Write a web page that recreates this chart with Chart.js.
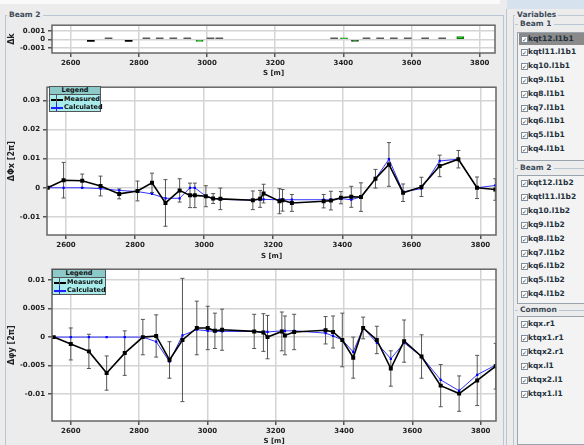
<!DOCTYPE html>
<html>
<head>
<meta charset="utf-8">
<script src="https://cdn.jsdelivr.net/npm/chart.js@4.4.0/dist/chart.umd.min.js"></script>
<style>
body { margin:0; width:584px; height:445px; background:#ececec; overflow:hidden; position:relative; font-family:"DejaVu Sans", sans-serif; font-weight:bold; }
canvas { position:absolute; left:0; }
.ln { position:absolute; background:#b9c7d5; }
.lbl { position:absolute; font-size:7.5px; color:#3c4a58; line-height:9px; background:#ececec; padding:0 2px; }
.legend { position:absolute; border:1px solid #555; background:#a9ecec; font-size:6.5px; color:#111; z-index:2; }
.legend .hd { background:#8ccaca; border-bottom:1px solid #555; text-align:center; height:7px; line-height:7px; }
.legend .row { position:relative; height:8px; line-height:8px; padding-left:14px; }
.legend .row i { position:absolute; left:1px; top:4px; width:12px; height:1.5px; }
.legend .row b { position:absolute; left:6px; top:0; width:1px; height:8px; }
.list { position:absolute; left:517px; width:70px; border:1px solid #9aa4ae; background:#f3f3f3; }
.item { position:absolute; left:519px; font-size:7.5px; color:#24313d; height:12px; line-height:12px; padding-left:9px; width:60px; }
.item.sel { background:#8a8a8a; }
.item span { position:absolute; left:2px; top:3px; width:5px; height:5px; border:1px solid #7f8c99; background:#fff; font-size:6px; line-height:5px; text-align:center; color:#333; }
</style>
</head>
<body>
<div style="position:absolute;left:0;top:0;width:500px;height:4px;background:#fafafa;"></div>
<div style="position:absolute;left:507px;top:0;width:77px;height:9px;background:#d6e2ee;"></div>

<!-- Beam 2 panel border -->
<div class="ln" style="left:5px;top:15px;width:498px;height:1px;"></div>
<div class="ln" style="left:5px;top:15px;width:1px;height:430px;"></div>
<div class="ln" style="left:503px;top:15px;width:1px;height:430px;"></div>
<div class="lbl" style="left:7px;top:10px;">Beam 2</div>

<!-- Variables side -->
<div class="ln" style="left:506px;top:9px;width:1px;height:436px;"></div>
<div class="ln" style="left:513px;top:15px;width:71px;height:1px;"></div>
<div class="ln" style="left:513px;top:15px;width:1px;height:430px;"></div>
<div class="lbl" style="left:515px;top:10px;">Variables</div>
<div class="ln" style="left:515px;top:24px;width:69px;height:1px;"></div>
<div class="lbl" style="left:518px;top:19px;">Beam 1</div>
<div class="list" style="top:32px;height:127px;"></div>
<div class="ln" style="left:515px;top:168px;width:69px;height:1px;"></div>
<div class="lbl" style="left:518px;top:163px;">Beam 2</div>
<div class="list" style="top:175px;height:127px;"></div>
<div class="ln" style="left:515px;top:310px;width:69px;height:1px;"></div>
<div class="lbl" style="left:518px;top:305px;">Common</div>
<div class="list" style="top:316px;height:127px;"></div>

<canvas id="dk" width="505" height="62" style="top:18px;"></canvas>
<canvas id="phx" width="505" height="185" style="top:80px;"></canvas>
<canvas id="phy" width="505" height="183" style="top:262px;"></canvas>

<div class="legend" style="left:49px;top:86px;width:50px;">
  <div class="hd">Legend</div>
  <div class="row"><i style="background:#000"></i><b style="background:#555"></b>Measured</div>
  <div class="row"><i style="background:#2020ff"></i><b style="background:#2020ff"></b>Calculated</div>
</div>
<div class="legend" style="left:52px;top:269px;width:52px;">
  <div class="hd">Legend</div>
  <div class="row"><i style="background:#000"></i><b style="background:#555"></b>Measured</div>
  <div class="row"><i style="background:#2020ff"></i><b style="background:#2020ff"></b>Calculated</div>
</div>

<script>
// variable lists
const beam1Vars = ['kqt12.l1b1', 'kqtl11.l1b1', 'kq10.l1b1', 'kq9.l1b1', 'kq8.l1b1', 'kq7.l1b1', 'kq6.l1b1', 'kq5.l1b1', 'kq4.l1b1'];
const beam2Vars = ['kqt12.l1b2', 'kqtl11.l1b2', 'kq10.l1b2', 'kq9.l1b2', 'kq8.l1b2', 'kq7.l1b2', 'kq6.l1b2', 'kq5.l1b2', 'kq4.l1b2'];
const commonVars = ['kqx.r1', 'ktqx1.r1', 'ktqx2.r1', 'kqx.l1', 'ktqx2.l1', 'ktqx1.l1'];

// s axis
const sTicks = [2600, 2800, 3000, 3200, 3400, 3600, 3800];
const sMin = 2545;
const sMax = 3845;

// top plot: delta k per magnet
const sKick = [2659, 2711, 2770, 2822, 2861, 2901, 2942, 2978, 3010, 3036, 3373, 3402, 3434, 3468, 3508, 3548, 3589, 3640, 3690, 3743];
const dk = [-0.00003, 0.00001, -0.00003, 0.00005, 0.00001, 0.00001, 0.00005, -0.00022, 0.00001, 0.00005, 0.00001, 0.0002, -0.00018, 0.00001, 0.00001, 0.00004, 0.00001, 0.00004, 0.00004, 0.00035];
const dkKind = ['b', 'g', 'b', 'g', 'g', 'g', 'g', 'G', 'g', 'g', 'g', 'G', 'D', 'g', 'g', 'g', 'g', 'g', 'g', 'G'];
const dkTicks = [-0.001, 0, 0.001];

// middle plot: horizontal phase beat
const sPhiX = [2547, 2593, 2647, 2700, 2754, 2807, 2849, 2888, 2929, 2959, 2973, 3005, 3026, 3047, 3141, 3162, 3172, 3218, 3227, 3254, 3346, 3367, 3396, 3426, 3454, 3496, 3535, 3576, 3629, 3682, 3736, 3790, 3843];
const measX = [0, 0.0026, 0.0024, 0.0006, -0.0021, -0.0011, 0.0017, -0.0052, -0.0009, -0.0026, -0.0026, -0.0029, -0.0037, -0.0038, -0.0043, -0.0038, -0.0020, -0.0046, -0.0043, -0.0052, -0.0046, -0.0044, -0.0034, -0.0031, -0.0032, 0.0031, 0.0080, -0.0017, 0.0003, 0.0075, 0.0098, 0.0000, -0.0006];
const errX = [0, 0.0061, 0.0023, 0.0034, 0.0017, 0.0034, 0.0033, 0.008, 0.004, 0.0042, 0.0042, 0.0036, 0.0017, 0.0037, 0.0032, 0.0029, 0.0032, 0.0043, 0.0037, 0.0029, 0.0023, 0.0032, 0.0021, 0.0036, 0.0049, 0.0032, 0.0075, 0.003, 0.0033, 0.0037, 0.003, 0.0037, 0.0037];
const calcX = [0, 0, 0, -0.0003, -0.0009, -0.0013, -0.0021, -0.0036, -0.0036, 0, 0, -0.0029, -0.0037, -0.0040, -0.0042, -0.0040, -0.0040, -0.0041, -0.0041, -0.0041, -0.0041, -0.0041, -0.0037, -0.0041, -0.0031, 0.0031, 0.0098, -0.0014, -0.0003, 0.0092, 0.0098, 0, 0.0008];
const phxTicks = [-0.01, 0, 0.01, 0.02, 0.03];

// bottom plot: vertical phase beat
const sPhiY = [2550, 2600, 2653, 2705, 2758, 2811, 2850, 2889, 2927, 2969, 3001, 3022, 3043, 3137, 3164, 3176, 3218, 3227, 3254, 3346, 3368, 3395, 3427, 3456, 3496, 3537, 3576, 3627, 3683, 3737, 3790, 3844];
const measY = [0, -0.0012, -0.0025, -0.0063, -0.0028, 0, 0.0002, -0.0040, -0.0005, 0.0016, 0.0016, 0.0011, 0.0013, 0.0010, 0.0008, 0, 0.0010, 0.0003, 0.0009, 0.0012, 0.0009, -0.0005, -0.0036, 0.0016, -0.0005, -0.0055, -0.0007, -0.0034, -0.0085, -0.0099, -0.0076, -0.0051];
const errY = [0, 0.0028, 0.003, 0.003, 0.0039, 0.0031, 0.0037, 0.0032, 0.0108, 0.0047, 0.0038, 0.0031, 0.0036, 0.003, 0.0033, 0.0038, 0.0034, 0.0034, 0.0031, 0.0024, 0.0028, 0.0047, 0.0036, 0.0019, 0.0024, 0.0031, 0.0037, 0.0038, 0.0037, 0.0031, 0.0044, 0.004];
const calcY = [0, 0, 0, 0, 0, 0, -0.0008, -0.0043, 0.0003, 0.0013, 0.0011, 0.0010, 0.0010, 0.0010, 0.0009, 0.0009, 0.0011, 0.0011, 0.0011, 0.0007, 0.0002, -0.0005, -0.0026, 0.0016, -0.0010, -0.0038, -0.0010, -0.0034, -0.0075, -0.0094, -0.0066, -0.0049];
const phyTicks = [-0.01, -0.005, 0, 0.005, 0.01];

// sidebar
function addList(names, top, step, selFirst) {
    names.forEach((n, i) => {
        const d = document.createElement('div');
        d.className = 'item' + (selFirst && i === 0 ? ' sel' : '');
        d.style.top = (top + i * step - 6) + 'px';
        d.innerHTML = '<span>&#10003;</span>' + n;
        document.body.appendChild(d);
    });
}
addList(beam1Vars, 38.5, 13.8, true);
addList(beam2Vars, 183, 13.9, false);
addList(commonVars, 323.5, 14, false);

Chart.defaults.font.family = "'DejaVu Sans', sans-serif";
Chart.defaults.font.size = 7;
Chart.defaults.font.weight = 'bold';
Chart.defaults.color = '#222';

const boxPlugin = {
    id: 'box',
    beforeDraw(chart) {
        const a = chart.chartArea, ctx = chart.ctx;
        ctx.save();
        ctx.fillStyle = '#fff';
        ctx.fillRect(a.left, a.top, a.right - a.left, a.bottom - a.top);
        ctx.restore();
    },
    afterDraw(chart) {
        const a = chart.chartArea, ctx = chart.ctx;
        ctx.save();
        ctx.strokeStyle = '#666';
        ctx.lineWidth = 1.5;
        ctx.strokeRect(a.left, a.top, a.right - a.left, a.bottom - a.top);
        ctx.restore();
    }
};

function xy(s, v) {
    return s.map((x, i) => ({x: x, y: v[i]}));
}

function errorPoints(s, v, e) {
    const pts = [];
    s.forEach((x, i) => {
        if (e[i] > 0) {
            pts.push({x: x, y: v[i] - e[i]}, {x: x, y: v[i] + e[i]}, {x: x, y: null});
        }
    });
    return pts;
}

function makeScales(yMin, yMax, yTicks, yTitle, yWidth, xHeight, xTitlePad) {
    return {
        x: {
            type: 'linear', min: sMin, max: sMax, offset: false,
            afterBuildTicks: s => { s.ticks = sTicks.map(v => ({value: v})); },
            afterFit: s => { s.height = xHeight; },
            grid: {color: '#d4d4d4', lineWidth: 1.5, tickLength: 4, tickColor: '#555', offset: false},
            border: {display: false},
            ticks: {padding: 1.5, maxRotation: 0, autoSkip: false, callback: v => String(v)},
            title: {display: true, text: 'S [m]', color: '#222', font: {size: 7, weight: 'bold'}, padding: {top: 0, bottom: xTitlePad}}
        },
        y: {
            type: 'linear', min: yMin, max: yMax,
            afterBuildTicks: s => { s.ticks = yTicks.map(v => ({value: v})); },
            afterFit: s => { s.width = yWidth; },
            grid: {color: '#d4d4d4', lineWidth: 1.5, tickLength: 4, tickColor: '#555'},
            border: {display: false},
            ticks: {padding: 3, autoSkip: false, callback: v => String(v)},
            title: {display: true, text: yTitle, color: '#222', font: {size: 8, weight: 'bold'}, padding: {top: 7, bottom: 0}}
        }
    };
}

const common = {
    responsive: false,
    animation: false,
    devicePixelRatio: 1,
    plugins: {legend: {display: false}, tooltip: {enabled: false}}
};

// top chart
const kickFill = {b: '#000', g: '#5a5a5a', G: '#10c010', D: '#0a6a0a'};
const kickLine = {b: '#000', g: '#5a5a5a', G: '#0a7a0a', D: '#064006'};
const kickBorder = {b: 0, g: 0, G: 1, D: 1};
new Chart(document.getElementById('dk'), {
    type: 'bar',
    data: {
        datasets: [{
            data: xy(sKick, dk),
            backgroundColor: dkKind.map(k => kickFill[k]),
            borderColor: dkKind.map(k => kickLine[k]),
            borderWidth: dkKind.map(k => kickBorder[k]),
            borderSkipped: false,
            barThickness: 7,
            minBarLength: 1.8,
            grouped: false
        }]
    },
    options: Object.assign({}, common, {
        layout: {padding: {top: 7, right: 10, left: 0, bottom: 0}},
        scales: makeScales(-0.0016, 0.0017, dkTicks, 'Δk', 52, 27, 2.8)
    }),
    plugins: [boxPlugin]
});

function phaseChart(id, s, meas, err, calc, yMin, yMax, yTicks, yTitle, yWidth, xHeight, xTitlePad, padRight) {
    return new Chart(document.getElementById(id), {
        type: 'line',
        data: {
            datasets: [
                {
                    data: xy(s, meas), borderColor: '#000', borderWidth: 1.6,
                    pointStyle: 'rect', pointRadius: 2.8, pointBackgroundColor: '#000', pointBorderWidth: 0
                },
                {
                    data: xy(s, calc), borderColor: '#3434ff', borderWidth: 1,
                    pointStyle: 'rect', pointRadius: 1.6, pointBackgroundColor: '#0000ff', pointBorderWidth: 0
                },
                {
                    data: errorPoints(s, meas, err), borderColor: '#555', borderWidth: 1, spanGaps: false,
                    pointStyle: 'line', pointRadius: 2, pointBorderColor: '#555', pointBorderWidth: 1
                }
            ]
        },
        options: Object.assign({}, common, {
            layout: {padding: {top: 7, right: padRight, left: 0, bottom: 0}},
            scales: makeScales(yMin, yMax, yTicks, yTitle, yWidth, xHeight, xTitlePad)
        }),
        plugins: [boxPlugin]
    });
}

phaseChart('phx', sPhiX, measX, errX, calcX, -0.0162, 0.0345, phxTicks, 'ΔΦx [2π]', 47, 30, 4.8, 9);
phaseChart('phy', sPhiY, measY, errY, calcY, -0.0147, 0.0119, phyTicks, 'Δφy [2π]', 52, 24, 0, 9);
</script>
</body>
</html>
